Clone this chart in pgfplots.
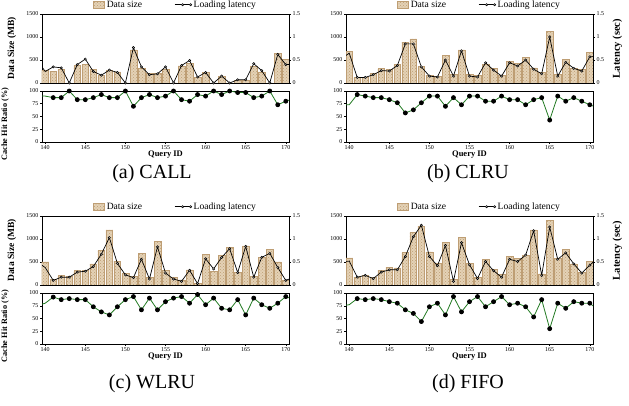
\documentclass[border=0pt]{standalone}
\usepackage{fontspec}
\setmainfont{Liberation Serif}
\usepackage{pgfplots}
\usepackage{pgfplotstable}
\pgfplotsset{compat=1.18}
\usetikzlibrary{patterns}

\definecolor{barline}{RGB}{190,158,116}
\definecolor{barfill}{RGB}{228,210,182}
\definecolor{hitgreen}{RGB}{34,122,34}

% x size(MB) latency(s) hit(%)
\pgfplotstableread{
x size lat hit
139 0 0.50 90
140 270 0.25 90
141 260 0.35 87
142 290 0.33 87
143 0 0 100
144 380 0.40 83
145 400 0.52 83
146 290 0.25 87
147 160 0.17 93
148 270 0.28 87
149 240 0.23 87
150 0 0 100
151 720 0.77 70
152 320 0.35 87
153 200 0.18 93
154 200 0.20 87
155 300 0.35 90
156 0 0 100
157 370 0.38 83
158 430 0.49 80
159 130 0.13 93
160 230 0.23 90
161 0 0 100
162 140 0.15 93
163 0 0 100
164 60 0.07 97
165 60 0.07 97
166 360 0.42 87
167 240 0.27 90
168 0 0 100
169 650 0.62 73
170 510 0.40 80
171 0 0.40 85
}\tcall

\pgfplotstableread{
x size lat hit
139 0 0.52 73
140 690 0.65 73
141 130 0.12 93
142 130 0.12 90
143 200 0.18 87
144 310 0.27 87
145 290 0.26 83
146 400 0.38 77
147 890 0.85 57
148 960 0.85 63
149 360 0.35 77
150 170 0.15 90
151 140 0.13 90
152 600 0.50 70
153 190 0.15 87
154 720 0.70 73
155 190 0.15 90
156 160 0.13 90
157 410 0.44 80
158 320 0.28 80
159 160 0.15 90
160 470 0.44 83
161 430 0.37 83
162 550 0.50 73
163 330 0.30 83
164 230 0.20 87
165 1120 1.00 43
166 180 0.15 90
167 510 0.45 80
168 320 0.32 87
169 290 0.26 80
170 670 0.57 73
171 0 0.58 67
}\tclru

\pgfplotstableread{
x size lat hit
139 0 0.50 75
140 500 0.38 80
141 120 0.10 92
142 200 0.17 87
143 190 0.17 89
144 310 0.28 87
145 310 0.30 87
146 460 0.40 73
147 750 0.67 63
148 1200 1.03 57
149 520 0.47 73
150 250 0.22 87
151 190 0.16 93
152 680 0.56 67
153 160 0.13 90
154 940 0.83 67
155 310 0.26 83
156 160 0.13 90
157 110 0.08 93
158 330 0.32 80
159 30 0.03 97
160 660 0.57 77
161 300 0.35 90
162 650 0.60 70
163 820 0.79 67
164 280 0.27 87
165 850 0.84 57
166 180 0.17 90
167 600 0.60 77
168 770 0.69 70
169 500 0.38 80
170 110 0.10 93
171 0 0.17 87
}\twlru

\pgfplotstableread{
x size lat hit
139 0 0.50 75
140 590 0.52 77
141 170 0.17 89
142 210 0.21 87
143 170 0.14 89
144 310 0.28 87
145 390 0.33 83
146 370 0.33 80
147 700 0.62 67
148 1150 1.05 60
149 1280 1.30 44
150 720 0.62 73
151 470 0.42 80
152 930 0.86 57
153 120 0.08 93
154 1040 0.92 63
155 470 0.44 83
156 160 0.14 93
157 550 0.51 73
158 340 0.31 83
159 230 0.17 93
160 630 0.56 77
161 580 0.51 80
162 650 0.65 73
163 1200 1.18 53
164 240 0.21 87
165 1400 1.26 30
166 580 0.56 80
167 770 0.70 70
168 460 0.46 83
169 280 0.26 80
170 520 0.43 80
171 0 0.60 67
}\tfifo

\pgfplotsset{
  base/.style={scale only axis, width=247pt,
    xmin=139.6, xmax=170.4,
    /pgf/number format/assume math mode=true,
    /pgf/number format/1000 sep={},
    tick label style={font=\fontsize{6}{6}\selectfont, inner sep=1.5pt},
    axis line style={line width=0.7pt},
    tick style={black, line width=0.5pt},
    major tick length=2pt, tick align=outside},
  sizebar/.style={ybar, bar width=0.85, draw=barline, line width=0.6pt,
    fill=barfill, postaction={pattern=crosshatch dots, pattern color=barline}},
  latline/.style={black, line width=0.7pt, mark=*, mark size=1.15pt,
    mark options={fill=gray!50, line width=0.5pt}, mark indices={2,...,32}},
  hitline/.style={hitgreen, line width=0.8pt, mark=*, mark size=2pt,
    mark options={black, fill=black}, mark indices={2,...,32}},
  barleg/.style={legend image code/.code={\draw[##1] (0pt,-3.5pt) rectangle (11pt,3.5pt);}},
  lineleg/.style={legend image code/.code={\draw[mark repeat=2, mark phase=2, ##1] plot coordinates {(0pt,0pt) (8pt,0pt) (16pt,0pt)};}},
}

% #1 table, #2 left x, #3 top y, #4 size label, #5 hit label, #6 latency label
\newcommand{\panel}[6]{%
  \begin{axis}[base, at={({#2pt},{-#3pt})}, anchor=north west, height=69pt,
    ymin=0, ymax=1500, ytick={0,500,1000,1500}, xtick=\empty, ytick pos=left,
    ylabel={#4},
    ylabel style={at={(axis description cs:-0.09,0.5)}, anchor=south,
      font=\bfseries\fontsize{9.5}{10}\selectfont}]
    \addplot[sizebar] table[x=x, y=size] {#1};
  \end{axis}
  \begin{axis}[base, at={({#2pt},{-#3pt})}, anchor=north west, height=69pt,
    ymin=0, ymax=1.5, ytick={0,0.5,1,1.5}, yticklabels={0,0.5,1,1.5},
    axis y line*=right, axis x line=none,
    ylabel={#6},
    ylabel style={at={(axis description cs:1.065,0.5)}, anchor=north,
      font=\bfseries\fontsize{10.5}{11}\selectfont},
    legend style={at={(axis description cs:0.5,1)}, anchor=south,
      xshift=10pt, yshift=2pt, draw=none, fill=none, inner sep=1pt,
      font=\fontsize{9.6}{10}\selectfont,
      /tikz/every even column/.append style={column sep=30pt}},
    legend columns=2]
    \addlegendimage{barleg, draw=barline, line width=0.6pt, fill=barfill,
      postaction={pattern=crosshatch dots, pattern color=barline}}
    \addlegendentry{Data size}
    \addplot[latline, lineleg] table[x=x, y=lat] {#1};
    \addlegendentry{Loading latency}
  \end{axis}
  \begin{axis}[base, at={({#2pt},{-#3pt-77pt})}, anchor=north west, height=51pt,
    ymin=0, ymax=100, ytick={0,25,50,75,100},
    xtick={140,145,...,170}, xtick pos=bottom, ytick pos=left,
    xlabel={Query ID},
    xlabel style={font=\bfseries\fontsize{8.5}{9}\selectfont, yshift=4pt},
    ylabel={#5},
    ylabel style={at={(axis description cs:-0.12,0.35)}, anchor=south,
      font=\bfseries\fontsize{8.2}{9}\selectfont}]
    \addplot[hitline] table[x=x, y=hit] {#1};
  \end{axis}
}

\begin{document}
\begin{tikzpicture}
\path[use as bounding box] (0pt,0pt) rectangle (629pt,-406pt);

\panel{\tcall}{42}{14}{Data Size (MB)}{Cache Hit Ratio (\%)}{}
\panel{\tclru}{346}{14}{}{}{Latency (sec)}
\panel{\twlru}{42}{216}{Data Size (MB)}{Cache Hit Ratio (\%)}{}
\panel{\tfifo}{346}{216}{}{}{Latency (sec)}

\node[anchor=base, font=\fontsize{20}{22}\selectfont] at (152pt,-179pt) {(a) CALL};
\node[anchor=base, font=\fontsize{20}{22}\selectfont] at (468pt,-179pt) {(b) CLRU};
\node[anchor=base, font=\fontsize{20}{22}\selectfont] at (152pt,-388pt) {(c) WLRU};
\node[anchor=base, font=\fontsize{20}{22}\selectfont] at (468pt,-388pt) {(d) FIFO};
\end{tikzpicture}
\end{document}
